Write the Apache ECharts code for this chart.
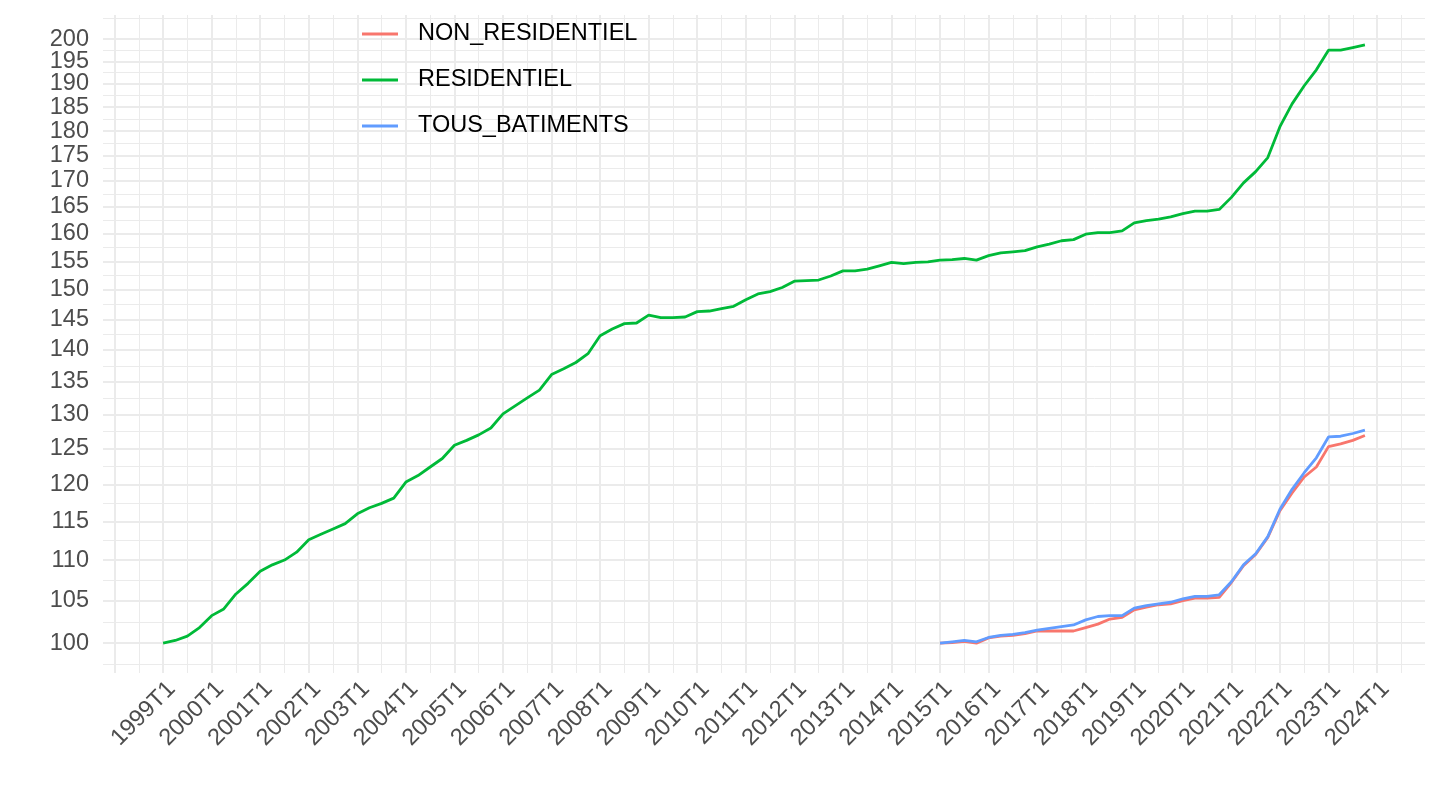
<!DOCTYPE html>
<html>
<head>
<meta charset="utf-8">
<script src="https://cdn.jsdelivr.net/npm/echarts@6/dist/echarts.min.js"></script>
<style>html,body{margin:0;padding:0;background:#fff}#c{width:1440px;height:810px}</style>
</head>
<body>
<div id="c"></div>
<script>
// ---------- data ----------
const seriesNames = ['NON_RESIDENTIEL', 'RESIDENTIEL', 'TOUS_BATIMENTS'];
const seriesColors = ['#F8766D', '#00BA38', '#619CFF'];
const residStart = '1999T1';
const nonResStart = '2015T1';

const residentiel = [
  100.0, 100.3, 100.8, 101.8, 103.2, 104.0, 105.8, 107.1,
  108.6, 109.4, 110.0, 111.0, 112.6, 113.3, 114.0, 114.7,
  116.0, 116.8, 117.4, 118.1, 120.3, 121.2, 122.4, 123.6,
  125.5, 126.2, 127.0, 128.0, 130.1, 131.3, 132.5, 133.7,
  136.1, 137.0, 138.0, 139.4, 142.3, 143.4, 144.3, 144.4,
  145.7, 145.3, 145.3, 145.4, 146.3, 146.4, 146.8, 147.2,
  148.3, 149.3, 149.7, 150.4, 151.5, 151.6, 151.7, 152.4,
  153.3, 153.3, 153.6, 154.2, 154.8, 154.6, 154.8, 154.9,
  155.2, 155.3, 155.5, 155.2, 156.0, 156.5, 156.7, 156.9,
  157.6, 158.1, 158.7, 158.9, 159.9, 160.2, 160.2, 160.5,
  162.0, 162.4, 162.7, 163.1, 163.7, 164.2, 164.2, 164.5,
  166.8, 169.6, 171.8, 174.6, 180.9, 185.7, 189.6, 193.1,
  197.5, 197.5, 198.1, 198.7
];
const nonResidentiel = [
  100.0, 100.05, 100.2, 100.0, 100.6, 100.8, 100.9, 101.1,
  101.4, 101.4, 101.4, 101.4, 101.8, 102.2, 102.8, 103.0,
  103.9, 104.2, 104.5, 104.6, 105.0, 105.3, 105.3, 105.4,
  107.2, 109.3, 110.7, 112.9, 116.4, 118.8, 121.0, 122.4,
  125.3, 125.7, 126.2, 126.9
];
const tousBatiments = [
  100.0, 100.15, 100.3, 100.15, 100.65, 100.9, 101.0, 101.2,
  101.5, 101.7, 101.9, 102.1, 102.7, 103.1, 103.2, 103.2,
  104.1, 104.4, 104.6, 104.8, 105.2, 105.5, 105.5, 105.7,
  107.3, 109.4, 110.8, 113.0, 116.6, 119.3, 121.6, 123.7,
  126.7, 126.8, 127.2, 127.7
];

const yTickValues = [100,105,110,115,120,125,130,135,140,145,150,155,160,165,170,175,180,185,190,195,200];
const xTickYears = [1999,2000,2001,2002,2003,2004,2005,2006,2007,2008,2009,2010,2011,2012,2013,2014,2015,2016,2017,2018,2019,2020,2021,2022,2023,2024];
const xGridYears = [1998].concat(xTickYears);

// ---------- helpers ----------
const FONT = '"Liberation Sans", Arial, Helvetica, sans-serif';
function periodToNum(p) {
  const y = parseInt(p.slice(0, 4), 10);
  const q = parseInt(p.slice(5), 10);
  return y + (q - 1) / 4;
}
function toPoints(start, values) {
  const s = periodToNum(start);
  return values.map((v, i) => [s + i / 4, Math.log10(v)]);
}
const allSeries = [
  toPoints(nonResStart, nonResidentiel),
  toPoints(residStart, residentiel),
  toPoints(nonResStart, tousBatiments)
];

// ggplot-like 5% expansion
const allX = allSeries.flat().map(p => p[0]);
const allY = allSeries.flat().map(p => p[1]);
const xMin0 = Math.min(...allX), xMax0 = Math.max(...allX);
const yMin0 = Math.min(...allY), yMax0 = Math.max(...allY);
const xPad = (xMax0 - xMin0) * 0.05, yPad = (yMax0 - yMin0) * 0.05;
const xMin = xMin0 - xPad, xMax = xMax0 + xPad;
const yMin = yMin0 - yPad, yMax = yMax0 + yPad;

const yMajor = yTickValues.map(v => Math.log10(v));
const yMajorEven = yMajor.filter((v, i) => i % 2 === 0);
const yMajorOdd = yMajor.filter((v, i) => i % 2 === 1);
const yMinor = [];
const bd = yMajor[1] - yMajor[0];
yMinor.push(yMajor[0] - bd / 2);
for (let i = 0; i < yMajor.length - 1; i++) yMinor.push((yMajor[i] + yMajor[i + 1]) / 2);
yMinor.push(yMajor[yMajor.length - 1] + bd / 2);
const xMinor = xGridYears.map(y => y + 0.5);

const gridColor = '#EBEBEB';
const yLabelStyle = {
  formatter: v => String(Math.round(Math.pow(10, v))),
  margin: 14, color: '#4D4D4D', fontSize: 23.5, fontFamily: FONT,
  hideOverlap: false
};

const option = {
  animation: false,
  backgroundColor: '#ffffff',
  grid: { left: 103, right: 15, top: 15, bottom: 137, containLabel: false, outerBoundsMode: 'none' },
  legend: {
    data: seriesNames,
    orient: 'vertical',
    left: 362,
    top: 20,
    padding: 0,
    icon: 'rect',
    itemWidth: 36,
    itemHeight: 3,
    itemGap: 18,
    textStyle: { fontSize: 23.5, color: '#000000', lineHeight: 24, fontFamily: FONT, padding: [4, 0, 0, 15] }
  },
  xAxis: [
    {
      type: 'value', min: xMin, max: xMax,
      axisLine: { show: false },
      axisTick: { show: false, customValues: xGridYears },
      splitLine: { show: true, lineStyle: { color: gridColor, width: 2 } },
      axisLabel: {
        customValues: xTickYears,
        formatter: v => Math.round(v) + 'T1',
        rotate: 45, align: 'right', verticalAlign: 'top', margin: 4,
        hideOverlap: false,
        color: '#4D4D4D', fontSize: 23.5, fontFamily: FONT
      }
    },
    {
      type: 'value', min: xMin, max: xMax, position: 'bottom',
      axisLine: { show: false },
      axisTick: { show: false, customValues: xMinor },
      axisLabel: { show: false },
      splitLine: { show: true, lineStyle: { color: gridColor, width: 1 } }
    }
  ],
  yAxis: [
    {
      type: 'value', min: yMin, max: yMax, position: 'left',
      axisLine: { show: false },
      axisTick: { show: false, customValues: yMajor },
      splitLine: { show: true, lineStyle: { color: gridColor, width: 2 } },
      axisLabel: Object.assign({ customValues: yMajorEven }, yLabelStyle)
    },
    {
      type: 'value', min: yMin, max: yMax, position: 'left',
      axisLine: { show: false },
      axisTick: { show: false, customValues: yMinor },
      axisLabel: { show: false },
      splitLine: { show: true, lineStyle: { color: gridColor, width: 1 } }
    },
    {
      type: 'value', min: yMin, max: yMax, position: 'left',
      axisLine: { show: false },
      axisTick: { show: false, customValues: yMajorOdd },
      splitLine: { show: false },
      axisLabel: Object.assign({ customValues: yMajorOdd }, yLabelStyle)
    }
  ],
  series: seriesNames.map((name, i) => ({
    name: name,
    type: 'line',
    xAxisIndex: 0,
    yAxisIndex: 0,
    data: allSeries[i],
    showSymbol: false,
    symbol: 'none',
    color: seriesColors[i],
    lineStyle: { color: seriesColors[i], width: 2.8 },
    z: 2 + i
  }))
};

const chart = echarts.init(document.getElementById('c'), null, { renderer: 'canvas' });
chart.setOption(option);
</script>
</body>
</html>
